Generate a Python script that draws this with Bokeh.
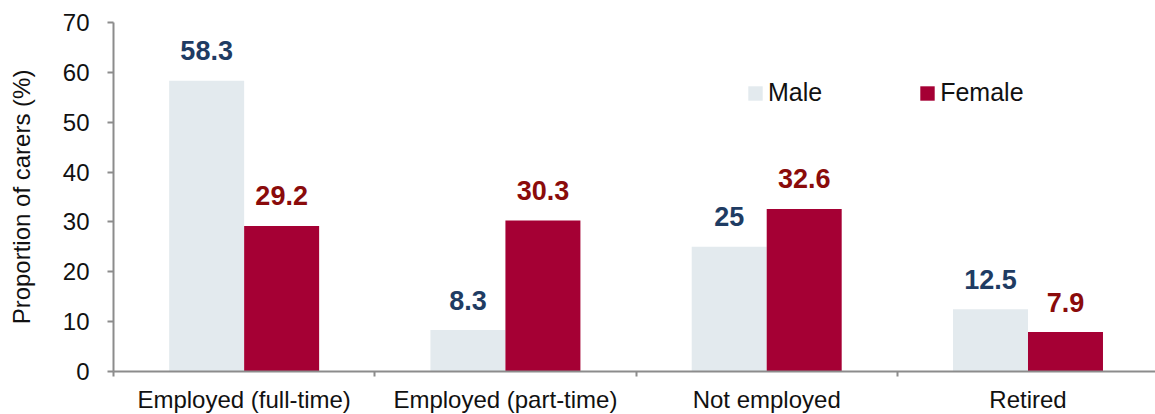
from bokeh.plotting import figure
from bokeh.models import Range1d, FixedTicker, Legend, LegendItem, ColumnDataSource
from bokeh.transform import dodge
from bokeh.core.properties import value
from bokeh.embed import file_html
from bokeh.resources import INLINE

categories = ["Employed (full-time)", "Employed (part-time)", "Not employed", "Retired"]
male = [58.3, 8.3, 25, 12.5]
female = [29.2, 30.3, 32.6, 7.9]
y_ticks = [0, 10, 20, 30, 40, 50, 60, 70]

FONT = "Liberation Sans"
MALE_BAR = "#E3EAEE"
FEMALE_BAR = "#A50034"
MALE_TXT = "#1F3C63"
FEMALE_TXT = "#8A0B0B"
AXIS_COL = "#8C8C8C"

xc = [i + 0.5 for i in range(len(categories))]
src = ColumnDataSource(dict(
    x=xc, male=male, female=female,
    male_lbl=["{:g}".format(v) for v in male],
    female_lbl=["{:g}".format(v) for v in female],
))

p = figure(frame_width=1042, frame_height=349, output_backend="svg", toolbar_location=None,
           x_range=Range1d(0, 3.988), y_range=Range1d(0, 70),
           min_border_left=113, min_border_right=0, min_border_top=22, min_border_bottom=43)
p.outline_line_color = None
p.xgrid.visible = False
p.ygrid.visible = False

bw = 0.287
r_m = p.vbar(x=dodge("x", -bw / 2, range=p.x_range), top="male", width=bw, source=src,
             fill_color=MALE_BAR, line_color=None)
r_f = p.vbar(x=dodge("x", bw / 2, range=p.x_range), top="female", width=bw, source=src,
             fill_color=FEMALE_BAR, line_color=None)

p.text(x=dodge("x", -bw / 2, range=p.x_range), y="male", text="male_lbl", source=src,
       text_align="center", text_baseline="alphabetic", y_offset=-30,
       text_font=value(FONT), text_font_size="27px", text_font_style="bold", text_color=MALE_TXT)
p.text(x=dodge("x", bw / 2, range=p.x_range), y="female", text="female_lbl", source=src,
       text_align="center", text_baseline="alphabetic", y_offset=-30,
       text_font=value(FONT), text_font_size="27px", text_font_style="bold", text_color=FEMALE_TXT)

# x axis
xa = p.xaxis[0]
xa.ticker = FixedTicker(ticks=xc, minor_ticks=list(range(len(categories) + 1)))
xa.major_label_overrides = {x: c for x, c in zip(xc, categories)}
xa.major_tick_line_color = None
xa.major_tick_out = 0
xa.major_tick_in = 0
xa.minor_tick_out = 5
xa.minor_tick_in = 0
xa.minor_tick_line_color = AXIS_COL
xa.minor_tick_line_width = 2
xa.axis_line_color = AXIS_COL
xa.axis_line_width = 2
xa.major_label_standoff = 9
xa.major_label_text_font = FONT
xa.major_label_text_font_size = "24px"
xa.major_label_text_color = "#111111"

# y axis
ya = p.yaxis[0]
ya.ticker = FixedTicker(ticks=y_ticks, minor_ticks=[])
ya.major_tick_out = 6
ya.major_tick_in = 0
ya.major_tick_line_color = AXIS_COL
ya.major_tick_line_width = 2
ya.axis_line_color = AXIS_COL
ya.axis_line_width = 2
ya.major_label_standoff = 18
ya.major_label_text_font = FONT
ya.major_label_text_font_size = "24px"
ya.major_label_text_color = "#111111"
ya.axis_label = "Proportion of carers (%)"
ya.axis_label_text_font = FONT
ya.axis_label_text_font_size = "24px"
ya.axis_label_text_font_style = "normal"
ya.axis_label_text_color = "#111111"
ya.axis_label_standoff = 25

legend = Legend(items=[LegendItem(label="Male", renderers=[r_m]),
                       LegendItem(label="Female", renderers=[r_f])],
                orientation="horizontal", location=(633, 264),
                glyph_width=18, glyph_height=18, label_standoff=4, spacing=96,
                padding=0, margin=0, border_line_color=None, background_fill_alpha=0,
                label_text_font=FONT, label_text_font_size="25px", label_text_color="#111111")
p.add_layout(legend)

open("out.html", "w").write(file_html(p, INLINE))
